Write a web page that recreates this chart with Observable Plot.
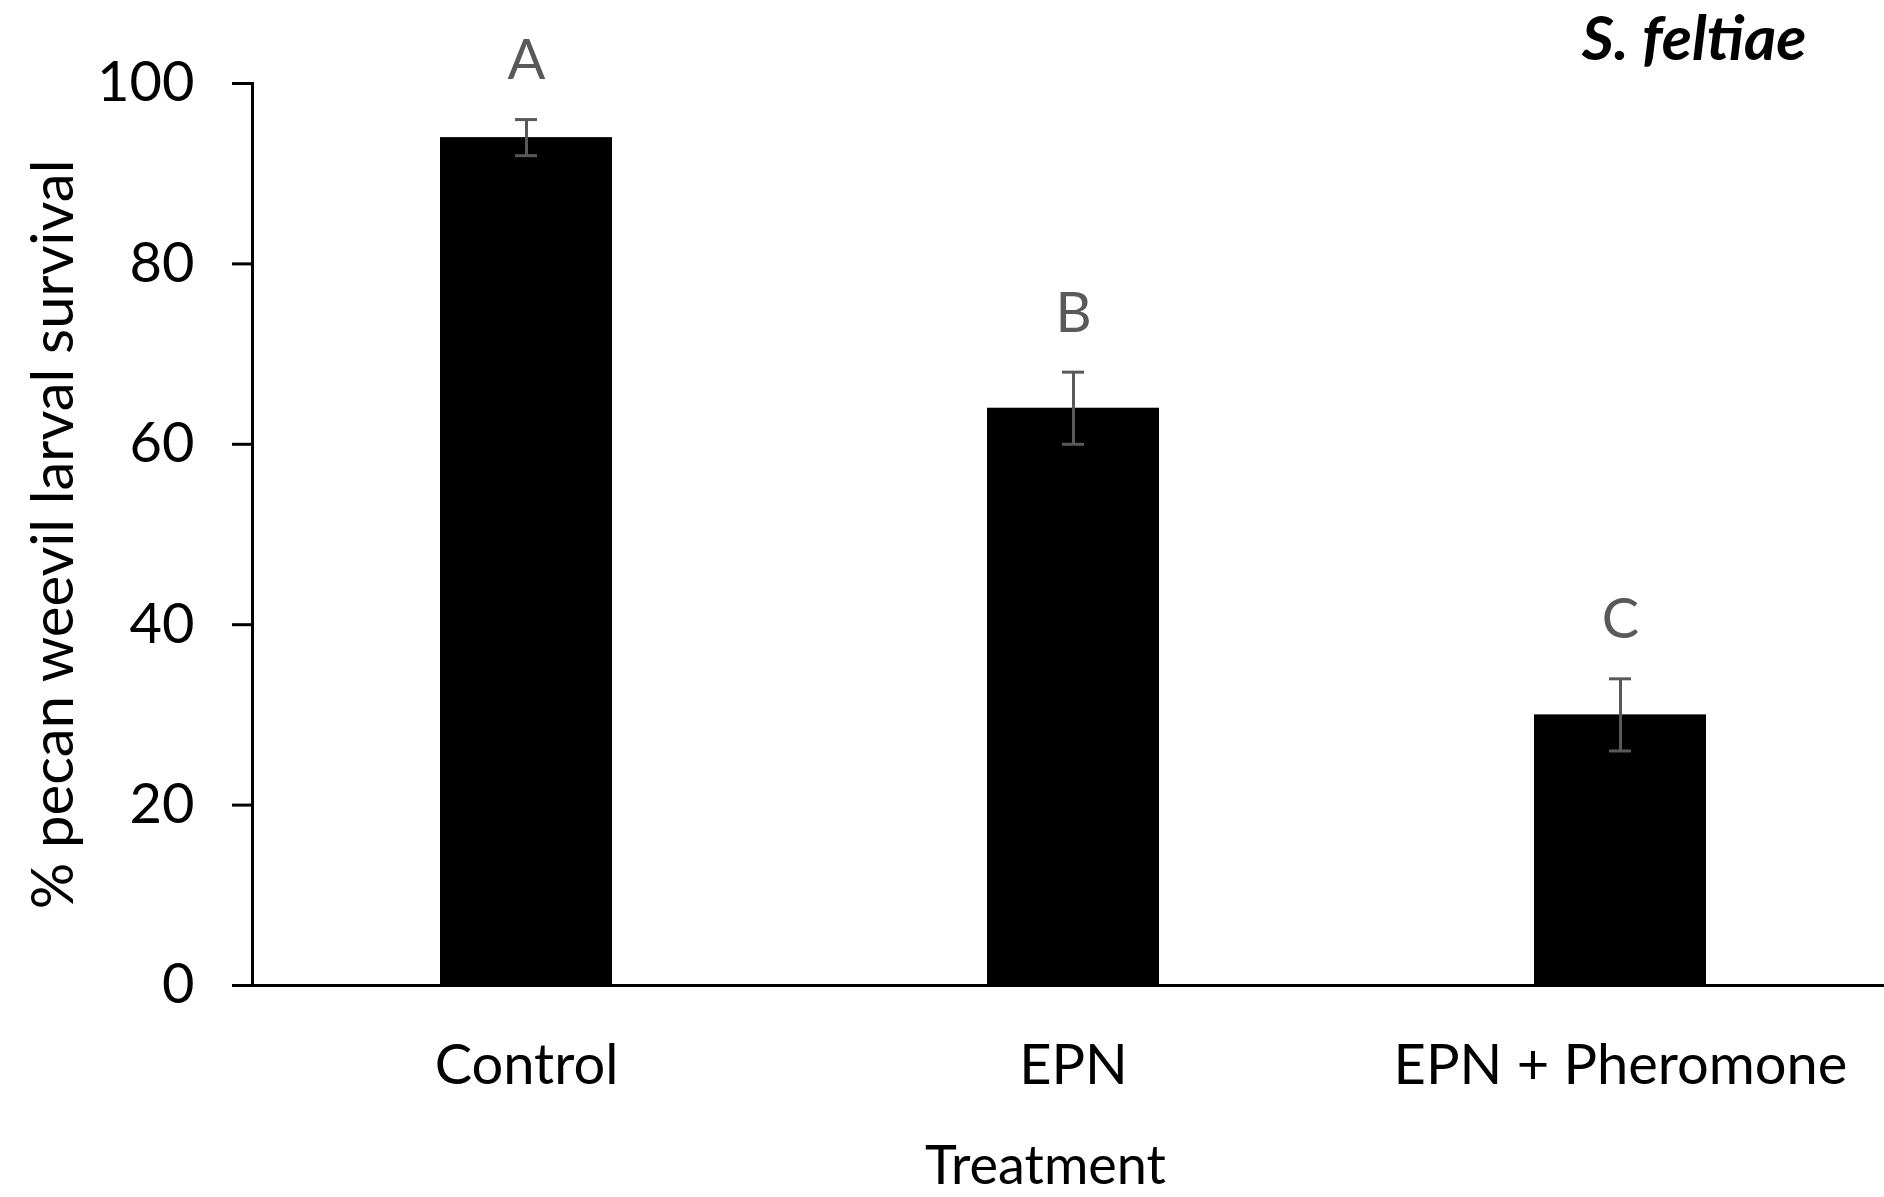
<!DOCTYPE html>
<html>
<head>
<meta charset="utf-8">
<script src="https://cdn.jsdelivr.net/npm/d3@7"></script>
<script src="https://cdn.jsdelivr.net/npm/@observablehq/plot@0.6"></script>
<style>
  html, body { margin: 0; padding: 0; background: #fff; }
  #chart { width: 1884px; height: 1197px; overflow: hidden; }
</style>
</head>
<body>
<div id="chart"></div>
<script>
const categories = ["Control", "EPN", "EPN + Pheromone"];
const means = [94, 64, 30];
const errors = [2, 4, 4];
const letters = ["A", "B", "C"];
const yTicks = [0, 20, 40, 60, 80, 100];
const speciesLabel = "S. feltiae";
const xTitle = "Treatment";
const yTitle = "% pecan weevil larval survival";

const data = categories.map((c, i) => ({
  cat: c, mean: means[i], err: errors[i], letter: letters[i]
}));

const font = "Lato, 'Open Sans', sans-serif";
const gray = "#595959";

const chart = Plot.plot({
  width: 1884,
  height: 1197,
  marginLeft: 252,
  marginRight: -10,
  marginTop: 83,
  marginBottom: 212,
  style: { fontFamily: font, fontSize: "54px", background: "#fff", color: "#000", overflow: "hidden" },
  x: { domain: categories, paddingInner: 0.6858, paddingOuter: 0.3429, label: null },
  y: { domain: [0, 100], label: null },
  marks: [
    Plot.barY(data, { x: "cat", y: "mean", fill: "#000" }),
    Plot.ruleX(data, { x: "cat", y1: d => d.mean - d.err, y2: d => d.mean + d.err, stroke: gray, strokeWidth: 3 }),
    Plot.tickY(data, { x: "cat", y: d => d.mean + d.err, stroke: gray, strokeWidth: 3, insetLeft: 75, insetRight: 75 }),
    Plot.tickY(data, { x: "cat", y: d => d.mean - d.err, stroke: gray, strokeWidth: 3, insetLeft: 75, insetRight: 75 }),
    Plot.text(data, { x: "cat", y: d => d.mean + d.err + 4.5, text: "letter", fill: gray, fontSize: 56, lineAnchor: "bottom" }),
    Plot.axisY({ ticks: yTicks, tickSize: 20, tickPadding: 38, strokeWidth: 3, fontSize: 56, label: null, color: "#000" }),
    Plot.axisX({ tickSize: 0, tickPadding: 59, fontSize: 56, label: null }),
    Plot.frame({ anchor: "left", strokeWidth: 3 }),
    Plot.ruleY([0], { strokeWidth: 3, insetLeft: -20 }),
    Plot.text([xTitle], { frameAnchor: "bottom", dx: -28, dy: 160, lineAnchor: "top", fontSize: 54, fill: "#000" }),
    Plot.text([yTitle], { frameAnchor: "left", textAnchor: "middle", rotate: -90, dx: -198, lineAnchor: "middle", fontSize: 58, fill: "#000" }),
    Plot.text([speciesLabel], { frameAnchor: "top-right", textAnchor: "end", dx: -88, dy: -24, lineAnchor: "bottom", fontSize: 62, fontWeight: "bold", fontStyle: "italic", fill: "#000" })
  ]
});
document.getElementById("chart").appendChild(chart);
</script>
</body>
</html>
